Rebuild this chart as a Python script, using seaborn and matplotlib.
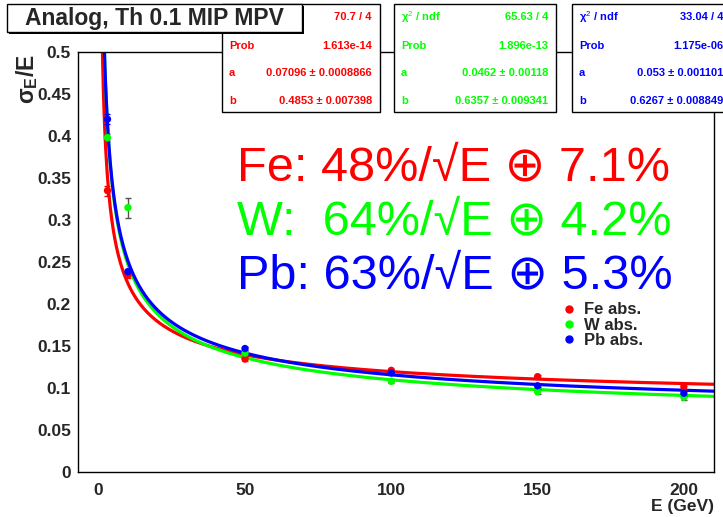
import numpy as np
import pandas as pd
import matplotlib
matplotlib.use("Agg")
import matplotlib.pyplot as plt
from matplotlib.patches import Rectangle
from matplotlib.lines import Line2D
import seaborn as sns

# ---- measured resolution points (sigma_E / E) ----
energy = [3, 10, 50, 100, 150, 200]
fe_res = [0.335, 0.2345, 0.1345, 0.121, 0.1135, 0.1016]
w_res = [0.398, 0.3147, 0.1415, 0.108, 0.0956, 0.0890]
pb_res = [0.420, 0.2385, 0.1470, 0.118, 0.1027, 0.0937]
fe_err = [0.006, 0.003, 0.002, 0.002, 0.002, 0.0045]
w_err = [0.004, 0.0120, 0.002, 0.002, 0.003, 0.003]
pb_err = [0.006, 0.003, 0.002, 0.002, 0.002, 0.003]

# ---- fit parameters: sigma/E = a + b / sqrt(E) ----
fe_a, fe_b = 0.07096, 0.4853
w_a, w_b = 0.0462, 0.6357
pb_a, pb_b = 0.053, 0.6267

series_names = ["Fe abs.", "W abs.", "Pb abs."]
series_colors = ["#ff0000", "#00ff00", "#0000ff"]
err_colors = ["#ff0000", "#555555", "#0000ff"]

stat_rows = [
    [("", "70.7 / 4"), ("Prob", "1.613e-14"), ("a", "0.07096 \u00b1 0.0008866"), ("b", "0.4853 \u00b1 0.007398")],
    [("\u03c7$^{2}$ / ndf", "65.63 / 4"), ("Prob", "1.896e-13"), ("a", "0.0462 \u00b1 0.00118"), ("b", "0.6357 \u00b1 0.009341")],
    [("\u03c7$^{2}$ / ndf", "33.04 / 4"), ("Prob", "1.175e-06"), ("a", "0.053 \u00b1 0.001101"), ("b", "0.6267 \u00b1 0.008849")],
]
summary_lines = [
    "Fe: 48%/\u221aE \u2295 7.1%",
    "W:  64%/\u221aE \u2295 4.2%",
    "Pb: 63%/\u221aE \u2295 5.3%",
]
title_text = "Analog, Th 0.1 MIP MPV"

sns.set_theme(style="white")
plt.rcParams["font.family"] = ["Liberation Sans", "DejaVu Sans"]
plt.rcParams["mathtext.fontset"] = "custom"
plt.rcParams["mathtext.rm"] = "Liberation Sans"
plt.rcParams["mathtext.bf"] = "Liberation Sans:bold"
plt.rcParams["mathtext.it"] = "Liberation Sans:italic"

W, H = 723, 517
fig = plt.figure(figsize=(W / 100, H / 100), dpi=100)
fig.patch.set_facecolor("white")


def fx(px):
    return px / W


def fy(py):
    return 1 - py / H


ax = fig.add_axes([fx(78), fy(472), (714 - 78) / W, (472 - 52) / H])
ax.set_facecolor("white")

# data table
frames = []
for name, res, err in zip(series_names, [fe_res, w_res, pb_res], [fe_err, w_err, pb_err]):
    frames.append(pd.DataFrame({"E": energy, "res": res, "err": err, "abs": name}))
df = pd.concat(frames, ignore_index=True)

# fit curves
e_grid = np.linspace(0.8, 210.3, 800)
fit_frames = []
for name, a, b in zip(series_names, [fe_a, w_a, pb_a], [fe_b, w_b, pb_b]):
    fit_frames.append(pd.DataFrame({"E": e_grid, "res": a + b / np.sqrt(e_grid), "abs": name}))
fits = pd.concat(fit_frames, ignore_index=True)

palette = dict(zip(series_names, series_colors))
sns.lineplot(data=fits, x="E", y="res", hue="abs", palette=palette, linewidth=2.3,
             legend=False, ax=ax, zorder=2)

for name, ec in zip(series_names, err_colors):
    sub = df[df["abs"] == name]
    ax.errorbar(sub["E"], sub["res"], yerr=sub["err"], fmt="none", ecolor=ec,
                elinewidth=1.0, capsize=2, capthick=1.0, zorder=3)

sns.scatterplot(data=df, x="E", y="res", hue="abs", palette=palette, s=28,
                edgecolor="none", ax=ax, zorder=4, legend=False)

ax.set_xlim(-7.07, 210.3)
ax.set_ylim(0, 0.5)
ax.set_xticks([0, 50, 100, 150, 200])
ax.set_xticks(np.arange(0, 211, 10), minor=True)
ax.set_yticks(np.arange(0, 0.51, 0.05))
ax.set_yticks(np.arange(0, 0.501, 0.01), minor=True)
ax.set_yticklabels(["0", "0.05", "0.1", "0.15", "0.2", "0.25", "0.3", "0.35", "0.4", "0.45", "0.5"])
ax.set_xlabel("")
ax.set_ylabel("")
ax.tick_params(axis="x", which="major", direction="in", length=9.5, width=0.9, color="#333333",
               labelsize=12.5, pad=8, top=False)
ax.tick_params(axis="x", which="minor", direction="in", length=5, width=0.9, color="#333333", top=False)
ax.tick_params(axis="y", which="major", direction="in", length=13, width=0.9, color="#333333",
               labelsize=12.5, pad=5, right=False)
ax.tick_params(axis="y", which="minor", direction="in", length=6.5, width=0.9, color="#333333", right=False)
for lab in ax.get_xticklabels() + ax.get_yticklabels():
    lab.set_fontweight("bold")
for sp in ax.spines.values():
    sp.set_color("black")
    sp.set_linewidth(1.0)

fig.text(fx(714), fy(506), "E (GeV)", ha="right", va="center", fontsize=12.5, fontweight="bold")
fig.text(fx(27), fy(54), "\u03c3$_{\\mathbf{E}}$/E", rotation=90, ha="center", va="top",
         fontsize=16.5, fontweight="bold")

# legend
handles = [Line2D([], [], marker="o", linestyle="none", color=c, markersize=5) for c in series_colors]
leg = ax.legend(handles, series_names, loc="upper left", bbox_to_anchor=(fx(552), fy(294)),
                bbox_transform=fig.transFigure, frameon=False, handlelength=1.0,
                handletextpad=0.45, labelspacing=0.02, borderpad=0,
                prop={"weight": "bold", "size": 12})

# large summary text
for i, (txt, col) in enumerate(zip(summary_lines, series_colors)):
    fig.text(fx(237), fy(180 + 54 * i), txt, color=col, fontsize=35, ha="left", va="baseline",
             family=["Liberation Sans", "DejaVu Sans"])

# statistics boxes
box_x = [(222, 380), (394, 556), (572, 731)]
row_y = [17, 46, 73, 101]
for (x0, x1), rows, col in zip(box_x, stat_rows, series_colors):
    fig.patches.append(Rectangle((fx(x0 + 1), fy(113)), (x1 - x0) / W, (112 - 4) / H,
                                 transform=fig.transFigure, facecolor="black",
                                 edgecolor="none", zorder=5))
    fig.patches.append(Rectangle((fx(x0), fy(112)), (x1 - x0) / W, (112 - 4) / H,
                                 transform=fig.transFigure, facecolor="white",
                                 edgecolor="black", linewidth=1.0, zorder=6))
    for (lab, val), yy in zip(rows, row_y):
        if lab:
            fig.text(fx(x0 + 7), fy(yy), lab, color=col, fontsize=8, fontweight="bold",
                     ha="left", va="center", zorder=7)
        fig.text(fx(x1 - 8), fy(yy), val, color=col, fontsize=8, fontweight="bold",
                 ha="right", va="center", zorder=7)

# title box
fig.patches.append(Rectangle((fx(9), fy(34)), (302 - 7) / W, (32 - 4) / H,
                             transform=fig.transFigure, facecolor="black", edgecolor="none", zorder=8))
fig.patches.append(Rectangle((fx(7), fy(32)), (302 - 7) / W, (32 - 4) / H,
                             transform=fig.transFigure, facecolor="white", edgecolor="black",
                             linewidth=1.0, zorder=9))
fig.text(fx(154), fy(18), title_text, ha="center", va="center", fontsize=16.5, fontweight="bold",
         zorder=10)

fig.savefig("out.png", dpi=100, facecolor="white")
